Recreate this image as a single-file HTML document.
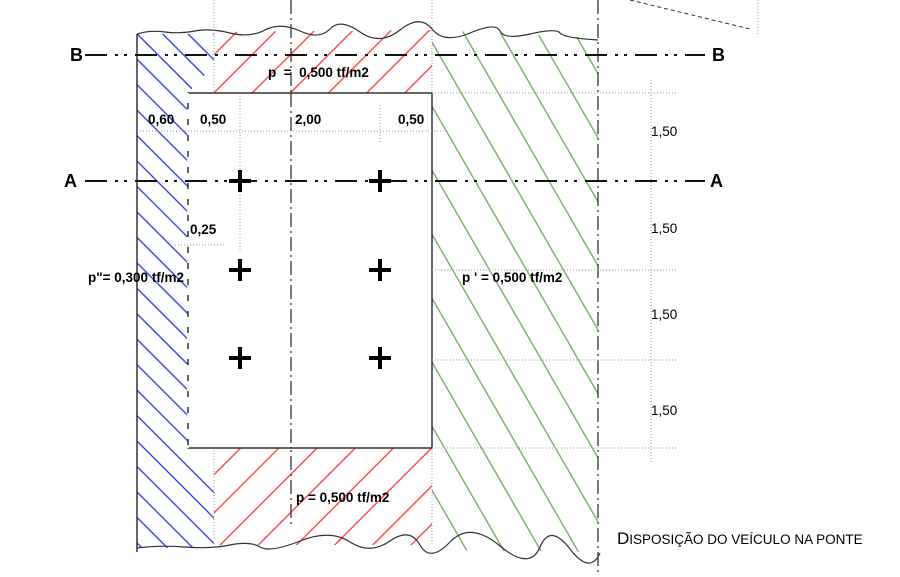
<!DOCTYPE html>
<html><head><meta charset="utf-8"><style>
html,body{margin:0;padding:0;background:#fff;}
svg{display:block;font-family:"Liberation Sans",sans-serif;}
.t{font-size:13.5px;font-weight:bold;fill:#000;}
</style></head><body>
<svg width="900" height="577" viewBox="0 0 900 577">
<defs>
<pattern id="pb" patternUnits="userSpaceOnUse" width="18" height="40" patternTransform="rotate(-45)"><line x1="1" y1="0" x2="1" y2="40" stroke="#2233ee" stroke-width="1.3"/></pattern>
<pattern id="pr" patternUnits="userSpaceOnUse" width="27" height="40" patternTransform="rotate(45)"><line x1="1" y1="0" x2="1" y2="40" stroke="#ff3333" stroke-width="1.3"/></pattern>
<pattern id="pg" patternUnits="userSpaceOnUse" width="32" height="40" patternTransform="rotate(-30)"><line x1="1" y1="0" x2="1" y2="40" stroke="#66aa55" stroke-width="1.3"/></pattern>
</defs>
<polygon points="137,34 214,34 214,65 188,93 188,448 214,473 214,548 137,548" fill="url(#pb)"/>
<polygon points="214,32 432,30 432,93 214,93" fill="url(#pr)"/>
<polygon points="214,448 432,448 432,545 214,545" fill="url(#pr)"/>
<polygon points="432,30 598,38 598,552 432,550" fill="url(#pg)"/>
<path d="M137,34 Q150,30 165,32 T195,31 T230,33 T265,30 T300,31 T330,29 T360,32 T400,30 T432,29 T470,33 T500,31 T530,34 T560,33 T598,40" fill="none" stroke="#333" stroke-width="1.2"/>
<path d="M137,548 Q160,545 185,547 T230,545 T260,547 T300,541 T350,542 T390,541 T420,545 T450,542 T500,546 T540,547 T570,549 T600,553" fill="none" stroke="#333" stroke-width="1.2"/>
<line x1="137" y1="34" x2="137" y2="552" stroke="#333" stroke-width="1.5"/>
<line x1="598" y1="0" x2="598" y2="572" stroke="#333" stroke-width="1.3" stroke-dasharray="14,4,2,4"/>
<line x1="291" y1="0" x2="291" y2="525" stroke="#333" stroke-width="1.3" stroke-dasharray="14,4,2,4"/>
<line x1="214" y1="0" x2="214" y2="540" stroke="#999" stroke-width="1" stroke-dasharray="1,2"/>
<line x1="432" y1="0" x2="432" y2="545" stroke="#999" stroke-width="1" stroke-dasharray="1,2"/>
<rect x="188" y="93" width="244" height="355" fill="#fff" stroke="#333" stroke-width="1.5"/>
<line x1="188" y1="93" x2="188" y2="448" stroke="#fff" stroke-width="2" stroke-dasharray="10,6"/>
<line x1="291" y1="93" x2="291" y2="448" stroke="#333" stroke-width="1.3" stroke-dasharray="14,4,2,4"/>
<line x1="240" y1="93" x2="240" y2="250" stroke="#999" stroke-dasharray="1,2"/>
<line x1="380" y1="105" x2="380" y2="143" stroke="#999" stroke-dasharray="1,2"/>
<line x1="137" y1="131" x2="445" y2="131" stroke="#999" stroke-dasharray="1,2"/>
<line x1="175" y1="245" x2="225" y2="245" stroke="#999" stroke-dasharray="1,2"/>
<line x1="85" y1="55" x2="705" y2="55" stroke="#111" stroke-width="2" stroke-dasharray="22,8,3,6,3,8"/>
<line x1="85" y1="181" x2="705" y2="181" stroke="#111" stroke-width="2" stroke-dasharray="22,8,3,6,3,8"/>
<text x="70" y="61" style="font-size:18px;font-weight:bold">B</text>
<text x="712" y="61" style="font-size:18px;font-weight:bold">B</text>
<text x="64" y="187" style="font-size:18px;font-weight:bold">A</text>
<text x="710" y="187" style="font-size:18px;font-weight:bold">A</text>
<g stroke="#000" stroke-width="4">
<path d="M240,170v22M229,181h22"/><path d="M380,170v22M369,181h22"/>
<path d="M240,259v22M229,270h22"/><path d="M380,259v22M369,270h22"/>
<path d="M240,347v22M229,358h22"/><path d="M380,347v22M369,358h22"/>
</g>
<line x1="651" y1="80" x2="651" y2="462" stroke="#999" stroke-dasharray="1,2"/>
<g stroke="#999" stroke-dasharray="1,2">
<line x1="432" y1="93" x2="678" y2="93"/><line x1="432" y1="270" x2="678" y2="270"/><line x1="432" y1="360" x2="678" y2="360"/><line x1="432" y1="448" x2="678" y2="448"/>
</g>
<text class="t" x="651" y="136" style="font-weight:normal">1,50</text>
<text class="t" x="651" y="233" style="font-weight:normal">1,50</text>
<text class="t" x="651" y="319" style="font-weight:normal">1,50</text>
<text class="t" x="651" y="415" style="font-weight:normal">1,50</text>
<text class="t" x="148" y="124">0,60</text>
<text class="t" x="200" y="124">0,50</text>
<text class="t" x="295" y="124">2,00</text>
<text class="t" x="398" y="124">0,50</text>
<text class="t" x="190" y="234">0,25</text>
<text class="t" x="268" y="77" xml:space="preserve">p  =  0,500 tf/m2</text>
<text class="t" x="296" y="502">p = 0,500 tf/m2</text>
<text class="t" x="88" y="282">p"= 0,300 tf/m2</text>
<text class="t" x="462" y="282">p ' = 0,500 tf/m2</text>
<text x="617" y="544" style="font-size:17px">D<tspan style="font-size:13.5px">ISPOSIÇÃO DO VEÍCULO NA PONTE</tspan></text>
<line x1="630" y1="0" x2="750" y2="29" stroke="#333" stroke-dasharray="4,3"/>
<line x1="758" y1="0" x2="758" y2="35" stroke="#999" stroke-dasharray="1,2"/>
</svg>
</body></html>
